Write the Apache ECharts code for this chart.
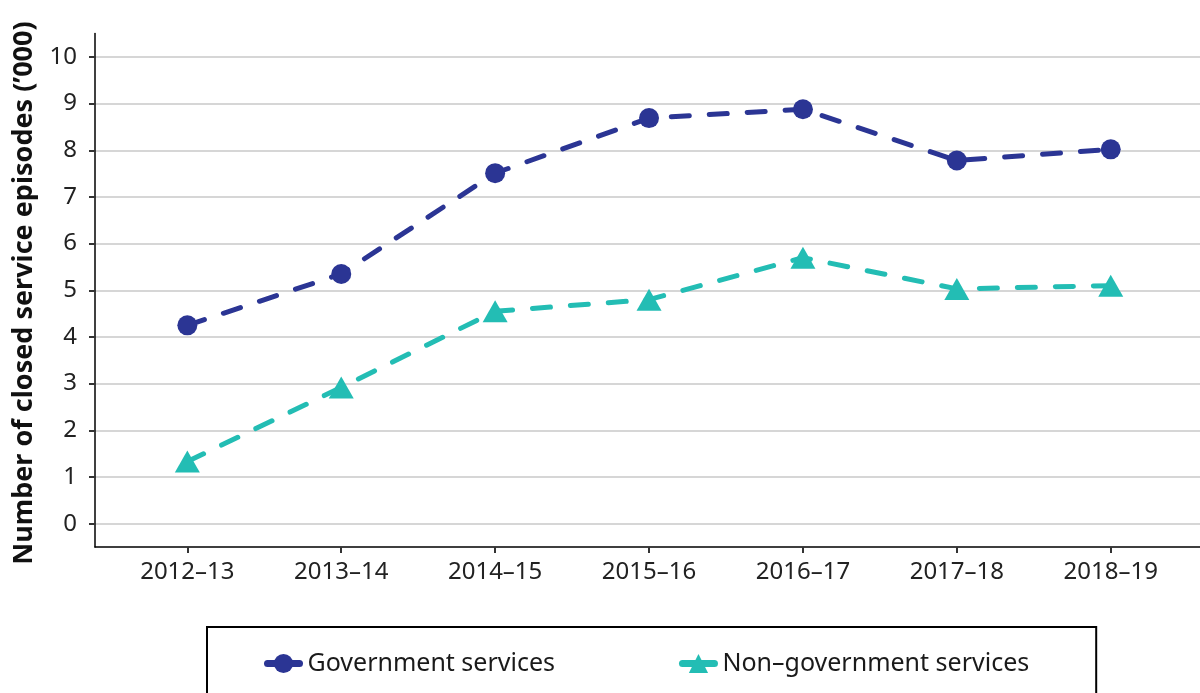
<!DOCTYPE html>
<html>
<head>
<meta charset="utf-8">
<script src="https://cdn.jsdelivr.net/npm/echarts@6/dist/echarts.min.js"></script>
<style>html,body{margin:0;padding:0;background:#fff}#c{width:1200px;height:693px}</style>
</head>
<body>
<div id="c"></div>
<script>
const categories = ['2012\u201313','2013\u201314','2014\u201315','2015\u201316','2016\u201317','2017\u201318','2018\u201319'];
const government = [4.25, 5.35, 7.51, 8.69, 8.88, 7.78, 8.02];
const nonGovernment = [1.33, 2.92, 4.55, 4.80, 5.70, 5.03, 5.10];
const yTicks = [0,1,2,3,4,5,6,7,8,9,10];
const xTicks = [0,1,2,3,4,5,6];
const seriesNames = ['Government services', 'Non\u2013government services'];
const yTitle = 'Number of closed service episodes (\u2019000)';

const FONT = '"Noto Sans", sans-serif';
const NAVY = '#2B3594';
const TEAL = '#23BDB4';

const toPairs = arr => arr.map((v, i) => [i, v]);

const chart = echarts.init(document.getElementById('c'), null, {renderer: 'canvas'});
chart.setOption({
  animation: false,
  backgroundColor: '#fff',
  textStyle: {fontFamily: FONT},
  grid: {left: 95, right: 0, top: 33.6, bottom: 146, containLabel: false},
  graphic: [{
    type: 'text',
    x: 24, y: 293,
    rotation: Math.PI / 2,
    silent: true,
    style: {
      text: yTitle,
      font: 'bold 27px "Noto Sans", sans-serif',
      fill: '#111',
      align: 'center',
      verticalAlign: 'middle'
    }
  }],
  xAxis: {
    type: 'value', min: -0.6, max: 6.58,
    axisLine: {show: true, onZero: false, lineStyle: {color: '#000', width: 1.5}},
    axisTick: {show: true, customValues: xTicks, length: 6, lineStyle: {color: '#333', width: 2}},
    axisLabel: {customValues: xTicks, formatter: v => categories[Math.round(v)], fontSize: 24, color: '#222', margin: 13, fontFamily: FONT},
    splitLine: {show: false}
  },
  yAxis: {
    type: 'value', min: -0.5, max: 10.5,
    axisLine: {show: true, onZero: false, lineStyle: {color: '#000', width: 1.5}},
    axisTick: {show: true, customValues: yTicks, length: 6, lineStyle: {color: '#333', width: 2}},
    axisLabel: {customValues: yTicks, fontSize: 24, color: '#222', margin: 18, fontFamily: FONT},
    splitLine: {show: true, lineStyle: {color: '#c8c8c8', width: 1.5}}
  },
  legend: {
    left: 207, top: 627,
    orient: 'horizontal',
    padding: [24, 67, 50, 57],
    borderColor: '#000', borderWidth: 2,
    itemWidth: 32, itemHeight: 24, itemGap: 124,
    lineStyle: {type: 'solid', width: 7},
    textStyle: {fontSize: 25, color: '#1a1a1a', fontFamily: FONT, padding: [0,0,0,3]},
    data: seriesNames
  },
  series: [
    {
      name: seriesNames[0], type: 'line', data: toPairs(government),
      symbol: 'circle', symbolSize: 20,
      itemStyle: {color: NAVY},
      lineStyle: {color: NAVY, width: 5, type: [18, 20], cap: 'round'}
    },
    {
      name: seriesNames[1], type: 'line', data: toPairs(nonGovernment),
      symbol: 'triangle', symbolSize: [25, 22],
      itemStyle: {color: TEAL},
      lineStyle: {color: TEAL, width: 5, type: [18, 20], cap: 'round'}
    }
  ]
});
</script>
</body>
</html>
